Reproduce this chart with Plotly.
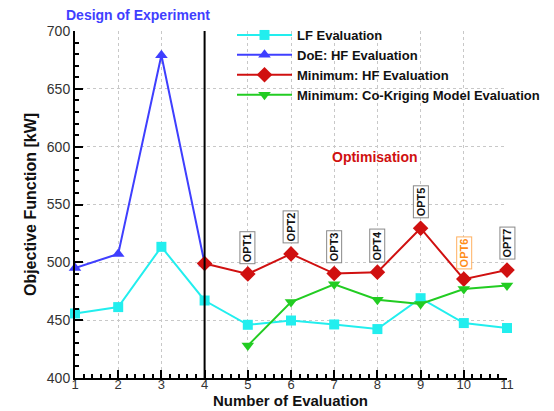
import plotly.graph_objects as go

evals = [1, 2, 3, 4, 5, 6, 7, 8, 9, 10, 11]
lf_values = [455.8, 461.3, 513.4, 467.0, 446.0, 449.7, 446.3, 442.3, 469.0, 447.5, 443.2]
doe_x = [1, 2, 3, 4]
doe_values = [495.0, 507.3, 679.0, 499.0]
hf_min_x = [4, 5, 6, 7, 8, 9, 10, 11]
hf_min_values = [499.0, 490.0, 507.3, 490.3, 491.5, 529.5, 485.5, 493.3]
ck_x = [5, 6, 7, 8, 9, 10, 11]
ck_values = [428.0, 465.6, 481.0, 467.6, 464.0, 477.0, 480.0]
opt_labels = ["OPT1", "OPT2", "OPT3", "OPT4", "OPT5", "OPT6", "OPT7"]
opt_colors = ["#111111", "#111111", "#111111", "#111111", "#111111", "#ff8c1a", "#111111"]
opt_borders = ["#888888", "#888888", "#888888", "#888888", "#888888", "#ffb060", "#888888"]

FONT = "Liberation Sans, Arial, Helvetica, sans-serif"

fig = go.Figure()
fig.add_trace(go.Scatter(x=evals, y=lf_values, mode="lines+markers", name="LF Evaluation",
                         line=dict(color="#22eeee", width=2),
                         marker=dict(symbol="square", size=10, color="#22eeee"), cliponaxis=False))
fig.add_trace(go.Scatter(x=doe_x, y=doe_values, mode="lines+markers", name="DoE: HF Evaluation",
                         line=dict(color="#3f3fff", width=2),
                         marker=dict(symbol="triangle-up", size=11, color="#3f3fff"), cliponaxis=False))
fig.add_trace(go.Scatter(x=hf_min_x, y=hf_min_values, mode="lines+markers", name="Minimum: HF Evaluation",
                         line=dict(color="#d01010", width=2),
                         marker=dict(symbol="diamond", size=12, color="#d01010"), cliponaxis=False))
fig.add_trace(go.Scatter(x=ck_x, y=ck_values, mode="lines+markers", name="Minimum: Co-Kriging Model Evaluation",
                         line=dict(color="#22cc22", width=2),
                         marker=dict(symbol="triangle-down", size=11, color="#22cc22"), cliponaxis=False))

# vertical separator between DoE and optimisation
fig.add_vline(x=4, line=dict(color="black", width=2))

for xv, yv, lab, c, bc in zip(hf_min_x[1:], hf_min_values[1:], opt_labels, opt_colors, opt_borders):
    fig.add_annotation(x=xv, y=yv, text="<b>" + lab + "</b>", textangle=-90, showarrow=False,
                       yanchor="bottom", yshift=10, font=dict(size=11, color=c, family=FONT),
                       bordercolor=bc, borderwidth=1, borderpad=1, bgcolor="white")

fig.add_annotation(x=(138 - 75) / 432, y=1 + (31 - 15) / 347, xref="paper", yref="paper",
                   text="<b>Design of Experiment</b>", xanchor="center", yanchor="middle",
                   showarrow=False, font=dict(size=14, color="#3f3fff", family=FONT))
fig.add_annotation(x=7.95, y=591, text="<b>Optimisation</b>", showarrow=False,
                   font=dict(size=14, color="#d01010", family=FONT))
# x-axis title
fig.add_annotation(x=(290 - 75) / 432, y=-(410.5 - 378) / 347, xref="paper", yref="paper",
                   text="<b>Number of Evaluation</b>", xanchor="center", yanchor="bottom",
                   showarrow=False, font=dict(size=15, color="#111111", family=FONT))

fig.update_layout(
    width=554, height=411,
    margin=dict(l=75, r=47, t=31, b=33, autoexpand=False),
    plot_bgcolor="white", paper_bgcolor="white",
    font=dict(family=FONT, size=14, color="#333333"),
    showlegend=True,
    legend=dict(x=(232 - 75) / 432, y=1 + (31 - 20) / 347, xanchor="left", yanchor="top",
                bgcolor="rgba(0,0,0,0)", borderwidth=0,
                font=dict(size=13, color="#111111", family=FONT, weight="bold"), itemwidth=55,
                tracegroupgap=0),
    xaxis=dict(range=[1, 11], tickmode="array", tickvals=evals, ticks="inside", ticklen=8,
               tickwidth=2, tickcolor="black", ticklabelstandoff=-7,
               minor=dict(dtick=0.2, ticks="inside", ticklen=4, tickcolor="black", showgrid=False),
               showline=True, linecolor="black", linewidth=2,
               showgrid=True, gridcolor="#c8c8c8", griddash="dot", gridwidth=1,
               zeroline=False, automargin=False,
               tickfont=dict(size=13, color="#333333")),
    yaxis=dict(range=[400, 700], tickmode="linear", tick0=400, dtick=50, ticks="inside", ticklen=8,
               tickwidth=2, tickcolor="black",
               minor=dict(dtick=10, ticks="inside", ticklen=4, tickcolor="black", showgrid=False),
               showline=True, linecolor="black", linewidth=2,
               showgrid=True, gridcolor="#c8c8c8", griddash="dot", gridwidth=1,
               zeroline=False, automargin=False,
               title=dict(text="<b>Objective Function [kW]</b>", font=dict(size=16, color="#111111"), standoff=6),
               tickfont=dict(size=14, color="#333333")),
)

fig.write_html("out.html")
